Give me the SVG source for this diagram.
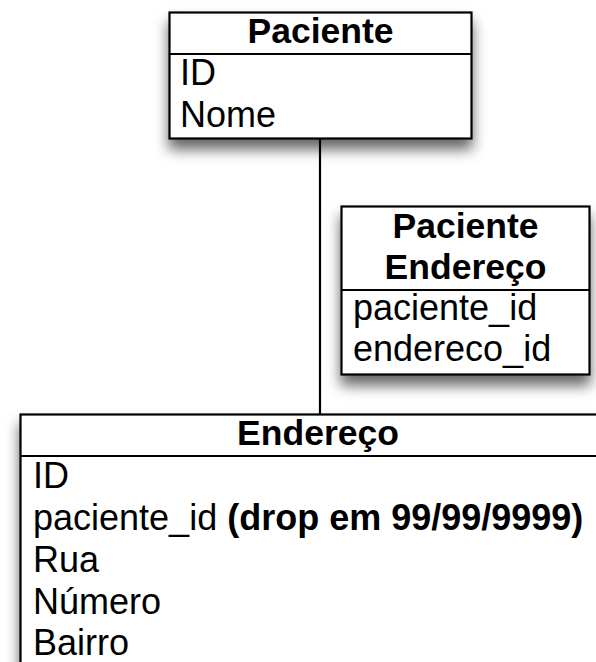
<svg xmlns="http://www.w3.org/2000/svg" width="596" height="662" viewBox="0 0 596 662">
<style>
.box{fill:#fff;stroke:#000;stroke-width:2.2}
.div{stroke:#000;stroke-width:2.2}
.hd{font-family:"Liberation Sans",Arial,sans-serif;font-size:35.5px;font-weight:bold;text-anchor:middle;fill:#000}
.tx{font-family:"Liberation Sans",Arial,sans-serif;font-size:36px;fill:#000}
.b{font-weight:bold}
.conn{stroke:#000;stroke-width:2.2;fill:none}
</style>
<defs>
<filter id="sh" x="-20%" y="-20%" width="140%" height="160%">
<feDropShadow dx="0" dy="10" stdDeviation="7" flood-color="#000" flood-opacity="0.6"/>
</filter>
</defs>
<g id="connectors">
<line class="conn" x1="320" y1="138" x2="320" y2="414"/>
</g>
<g id="paciente">
<rect class="box" x="169.5" y="12.5" width="302" height="126" filter="url(#sh)"/>
<line class="div" x1="169.5" y1="54" x2="471.5" y2="54"/>
<text class="hd" x="320.5" y="43">Paciente</text>
<text class="tx" x="180" y="85">ID</text>
<text class="tx" x="180" y="127">Nome</text>
</g>
<g id="paciente_endereco">
<rect class="box" x="341.5" y="206.5" width="248" height="168" filter="url(#sh)"/>
<line class="div" x1="341.5" y1="290" x2="589.5" y2="290"/>
<text class="hd" x="465.5" y="238">Paciente</text>
<text class="hd" x="465.5" y="279">Endereço</text>
<text class="tx" x="353" y="320">paciente_id</text>
<text class="tx" x="353" y="361">endereco_id</text>
</g>
<g id="endereco">
<rect class="box" x="20.5" y="414.5" width="596" height="300" filter="url(#sh)"/>
<line class="div" x1="20.5" y1="456" x2="616.5" y2="456"/>
<text class="hd" x="318" y="445">Endereço</text>
<text class="tx" x="33" y="488">ID</text>
<text class="tx" x="33" y="530">paciente_id <tspan class="b">(drop em 99/99/9999)</tspan></text>
<text class="tx" x="33" y="572">Rua</text>
<text class="tx" x="33" y="614">Número</text>
<text class="tx" x="33" y="655">Bairro</text>
</g>
</svg>
